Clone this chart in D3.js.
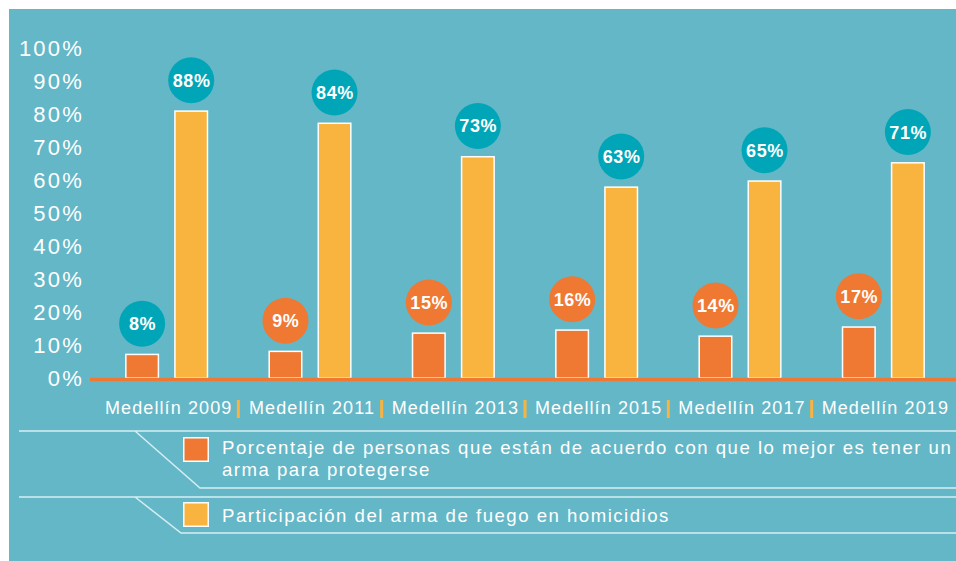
<!DOCTYPE html>
<html>
<head>
<meta charset="utf-8">
<script src="https://cdn.jsdelivr.net/npm/d3@7"></script>
<style>
  body { margin: 0; background: #fff; }
  svg { display: block; font-family: "Liberation Sans", Arial, Helvetica, sans-serif; }
</style>
</head>
<body>
<div id="chart"></div>
<script>
// Chart data
const categories = ["Medellín 2009", "Medellín 2011", "Medellín 2013", "Medellín 2015", "Medellín 2017", "Medellín 2019"];
const protegerse = [8, 9, 15, 16, 14, 17];
const homicidios = [88, 84, 73, 63, 65, 71];
const seriesKeys = ["protegerse", "homicidios"];
const legendLabels = [
  ["Porcentaje de personas que están de acuerdo con que lo mejor es tener un", "arma para protegerse"],
  ["Participación del arma de fuego en homicidios"]
];
const yTickValues = [0, 10, 20, 30, 40, 50, 60, 70, 80, 90, 100];

const width = 956;
const height = 561;
const colors = {
  bg: "#64b7c7",
  teal: "#00a6b7",
  orange: "#ef7833",
  yellow: "#f9b440",
  rule: "#d6eef3",
};
const seriesColor = { protegerse: colors.orange, homicidios: colors.yellow };

const rows = categories.map((name, i) => ({
  name,
  values: seriesKeys.map((key) => ({
    key,
    index: i,
    value: key === "protegerse" ? protegerse[i] : homicidios[i],
  })),
}));

const svg = d3
  .select("#chart")
  .append("svg")
  .attr("width", width)
  .attr("height", height);

// Background panel
svg.append("rect").attr("width", width).attr("height", height).attr("fill", "#fff");
svg
  .append("rect")
  .attr("x", 9)
  .attr("y", 9)
  .attr("width", width - 9)
  .attr("height", height - 9)
  .attr("fill", colors.bg);

// Scales
const baseline = 378;
const y = d3.scaleLinear().domain([0, 100]).range([baseline, 48]);
// the source draws its bars a little short of the axis ticks
const yBar = d3.scaleLinear().domain([0, 108.5]).range([baseline, 48]);

const x0 = d3
  .scaleBand()
  .domain(categories)
  .range([95, 955])
  .paddingInner(0.42)
  .paddingOuter(0.21);

const x1 = d3
  .scaleBand()
  .domain(seriesKeys)
  .range([0, x0.bandwidth()])
  .paddingInner(0.306);

// Y axis
const yAxis = svg
  .append("g")
  .attr("transform", "translate(84,0)")
  .call(
    d3
      .axisLeft(y)
      .tickValues(yTickValues)
      .tickFormat((d) => d + "%")
      .tickSize(0)
      .tickPadding(0)
  );
yAxis.select(".domain").remove();
yAxis
  .selectAll("text")
  .attr("fill", "#fff")
  .style("font-size", "22px")
  .style("letter-spacing", "2.2px")
  .style("font-family", "'Liberation Sans', Arial, sans-serif");

// Bars
const group = svg
  .selectAll(".group")
  .data(rows)
  .join("g")
  .attr("class", "group")
  .attr("transform", (d) => `translate(${x0(d.name)},0)`);

group
  .selectAll("rect")
  .data((d) => d.values)
  .join("rect")
  .attr("x", (d) => x1(d.key) + 0.75)
  .attr("y", (d) => yBar(d.value) + 0.75)
  .attr("width", x1.bandwidth() - 1.5)
  .attr("height", (d) => baseline - yBar(d.value) - 0.75)
  .attr("fill", (d) => seriesColor[d.key])
  .attr("stroke", "#fff")
  .attr("stroke-width", 1.5);

// Value bubbles
const bubble = group
  .selectAll(".bubble")
  .data((d) => d.values)
  .join("g")
  .attr("class", "bubble")
  .attr(
    "transform",
    (d) => `translate(${x1(d.key) + x1.bandwidth() / 2},${yBar(d.value) - 30})`
  );

bubble
  .append("circle")
  .attr("r", 23)
  .attr("fill", (d) =>
    d.key === "homicidios" || d.index === 0 ? colors.teal : colors.orange
  );

bubble
  .append("text")
  .attr("text-anchor", "middle")
  .attr("dy", "0.36em")
  .attr("dx", 0.4)
  .attr("fill", "#fff")
  .style("font-size", "18px")
  .style("font-weight", "bold")
  .style("letter-spacing", "0.6px")
  .text((d) => d.value + "%");

// Baseline
svg
  .append("line")
  .attr("x1", 90)
  .attr("x2", width)
  .attr("y1", baseline + 1.5)
  .attr("y2", baseline + 1.5)
  .attr("stroke", colors.orange)
  .attr("stroke-width", 3.5);

// Category labels and separators
svg
  .selectAll(".cat-label")
  .data(categories)
  .join("text")
  .attr("class", "cat-label")
  .attr("x", (d) => x0(d) + x0.bandwidth() / 2 + 2)
  .attr("y", 414)
  .attr("text-anchor", "middle")
  .attr("fill", "#fff")
  .style("font-size", "18px")
  .style("letter-spacing", "1.1px")
  .text((d) => d);

svg
  .selectAll(".sep")
  .data(categories.slice(1))
  .join("rect")
  .attr("class", "sep")
  .attr("x", (d) => x0(d) - (x0.step() * x0.paddingInner()) / 2 - 1.5)
  .attr("y", 400)
  .attr("width", 3)
  .attr("height", 18)
  .attr("fill", colors.yellow);

// Legend
const legendRows = [
  { top: 431, bottom: 488, end: 200, swatchY: 437, textY: 454 },
  { top: 497, bottom: 533, end: 181, swatchY: 502, textY: 522 },
];

legendRows.forEach((r, i) => {
  svg
    .append("path")
    .attr("d", `M19,${r.top}H${width}M135,${r.top}L${r.end},${r.bottom}H${width}`)
    .attr("fill", "none")
    .attr("stroke", colors.rule)
    .attr("stroke-width", 1.5);

  svg
    .append("rect")
    .attr("x", 183.75)
    .attr("y", r.swatchY + 0.75)
    .attr("width", 24.5)
    .attr("height", 23.5)
    .attr("fill", seriesColor[seriesKeys[i]])
    .attr("stroke", "#fff")
    .attr("stroke-width", 1.5);

  const t = svg
    .append("text")
    .attr("x", 222)
    .attr("y", r.textY)
    .attr("fill", "#fff")
    .style("font-size", "18.6px")
    .style("letter-spacing", "1.5px");

  t.selectAll("tspan")
    .data(legendLabels[i])
    .join("tspan")
    .attr("x", 222)
    .attr("dy", (d, j) => (j === 0 ? 0 : 22))
    .text((d) => d);
});
</script>
</body>
</html>
